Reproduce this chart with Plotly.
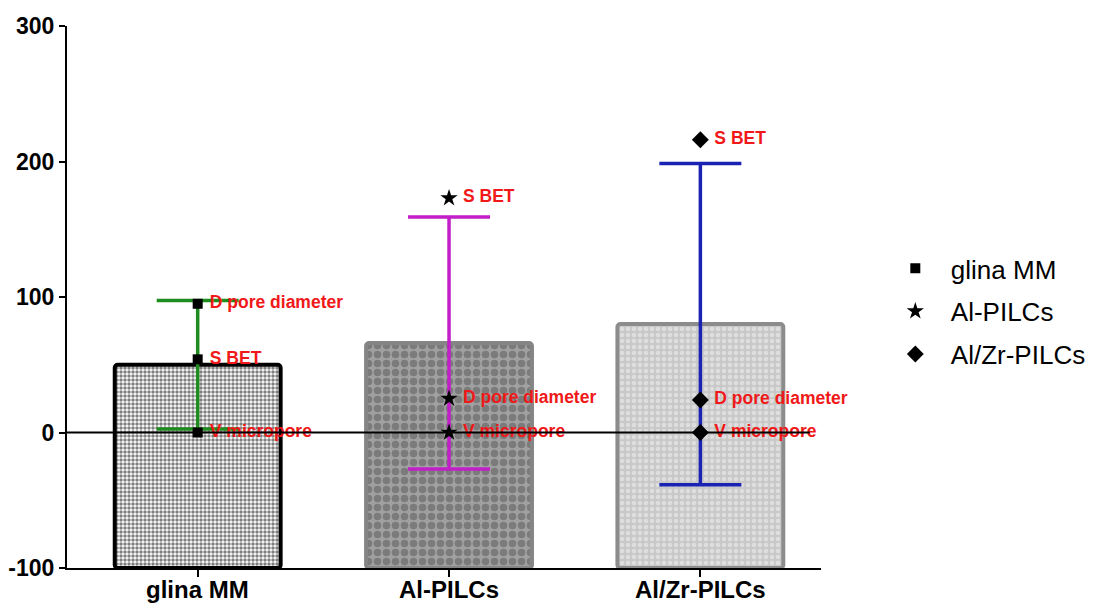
import plotly.graph_objects as go

categories = ["glina MM", "Al-PILCs", "Al/Zr-PILCs"]
bar_means = [50, 66, 80]
bar_sd = [47.5, 93, 118.5]
err_colors = ["#1f8c1f", "#c21fc8", "#1a22b4"]

point_labels = ["S BET", "D pore diameter", "V micropore"]
glina_vals = [54, 95, 0]
al_vals = [173, 25, 0]
alzr_vals = [216, 24, 0]

series = [
    ("glina MM", categories[0], glina_vals, "square", 10),
    ("Al-PILCs", categories[1], al_vals, "star", 13),
    ("Al/Zr-PILCs", categories[2], alzr_vals, "diamond", 13),
]

y_min, y_max = -100, 300
y_ticks = [-100, 0, 100, 200, 300]
y_ticktext = ["-100", "0", "100", "200", "300"]

FONT = "Arial, Liberation Sans, sans-serif"

fig = go.Figure()

bar_fg = ["#000000", "#555555", "#f4f4f4"]
bar_bg = ["#ffffff", "#a0a0a0", "#c8c8c8"]
bar_line = ["#000000", "#858585", "#8c8c8c"]
bar_pat_size = [4, 9, 6]
bar_pat_sol = [0.6, 0.55, 0.45]

for i, c in enumerate(categories):
    fig.add_trace(go.Bar(
        x=[c], y=[bar_means[i] - y_min], base=[y_min],
        width=0.66,
        marker=dict(
            color=bar_bg[i],
            line=dict(color=bar_line[i], width=4),
            pattern=dict(shape=".", fgcolor=bar_fg[i], bgcolor=bar_bg[i],
                         size=bar_pat_size[i], solidity=bar_pat_sol[i]),
            cornerradius=3,
        ),
        showlegend=False, hoverinfo="skip",
    ))

for i, c in enumerate(categories):
    fig.add_trace(go.Scatter(
        x=[c], y=[bar_means[i]], mode="markers",
        marker=dict(size=1, opacity=0),
        error_y=dict(type="data", array=[bar_sd[i]], color=err_colors[i],
                     thickness=3.5, width=41),
        showlegend=False, hoverinfo="skip",
    ))

for name, cat, vals, sym, sz in series:
    fig.add_trace(go.Scatter(
        x=[cat] * len(vals), y=vals, mode="markers+text",
        name=name, legendgroup=name,
        marker=dict(symbol=sym, size=sz, color="black"),
        text=[" " + t for t in point_labels],
        textposition="middle right",
        cliponaxis=False,
        textfont=dict(family=FONT, size=17.5, color="#f01818", weight="bold"),
    ))

fig.add_shape(type="line", xref="paper", x0=0, x1=0.985, yref="y", y0=0, y1=0,
              line=dict(color="black", width=2), layer="above")

# category labels placed under the axis ticks
for c in categories:
    fig.add_annotation(x=c, xref="x", y=0, yref="paper", yanchor="top",
                       yshift=-6, text=c, showarrow=False,
                       font=dict(family=FONT, size=24, color="black", weight="bold"))

fig.update_layout(
    width=1088, height=598,
    margin=dict(l=59, r=275, t=18, b=38, autoexpand=False),
    paper_bgcolor="white", plot_bgcolor="white",
    barmode="overlay",
    font=dict(family=FONT, color="black"),
    legend=dict(x=1.078, y=0.596, xanchor="left", yanchor="top",
                font=dict(family=FONT, size=26, color="black"),
                tracegroupgap=6, itemsizing="trace", itemwidth=61),
    xaxis=dict(range=[-0.52, 2.48], showline=True, linecolor="black", linewidth=2,
               ticks="outside", ticklen=7, tickwidth=2, tickcolor="black",
               showticklabels=False,
               showgrid=False, zeroline=False, automargin=False),
    yaxis=dict(range=[y_min, y_max], tickvals=y_ticks, ticktext=y_ticktext,
               showline=True, linecolor="black", linewidth=2, ticks="outside",
               ticklen=6, tickwidth=2, tickcolor="black",
               tickfont=dict(family=FONT, size=23, color="black", weight="bold"),
               showgrid=False, zeroline=False, automargin=False),
)

fig.write_html("out.html")
